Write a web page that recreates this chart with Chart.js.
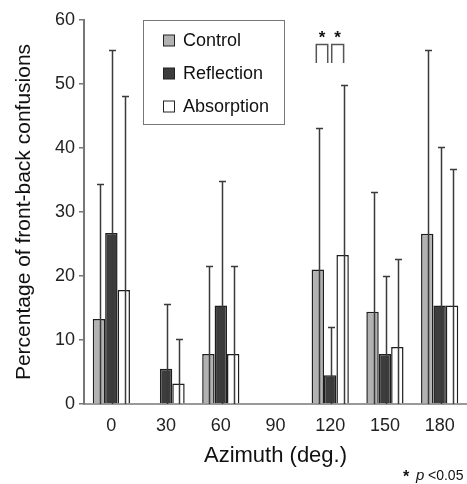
<!DOCTYPE html>
<html lang="en">
  <head>
    <meta charset="UTF-8" />
    <script src="https://cdn.jsdelivr.net/npm/chart.js"></script>
    <style>
      html, body { margin: 0; padding: 0; background: #fff; }
      .chart-container { position: relative; width: 467px; height: 484px; }
    </style>
    <title>front-back confusions</title>
  </head>
  <body>
    <div class="chart-container">
      <canvas id="fbChart" width="467" height="484"></canvas>
    </div>
    <script>
      // azimuth categories
      const categories = ["0", "30", "60", "90", "120", "150", "180"];

      // mean percentage per condition
      const control = [13.3, 0, 7.8, 0, 21.0, 14.4, 26.6];
      const reflection = [26.7, 5.5, 15.4, 0, 4.5, 7.8, 15.4];
      const absorption = [17.8, 3.2, 7.8, 0, 23.3, 8.9, 15.4];

      // upper end of the error bars (mean + SD), null = no bar
      const controlUpper = [34.4, null, 21.6, null, 43.1, 33.1, 55.3];
      const reflectionUpper = [55.3, 15.6, 34.8, null, 12.0, 20.0, 40.1];
      const absorptionUpper = [48.2, 10.2, 21.6, null, 49.8, 22.6, 36.7];

      const yTicks = [0, 10, 20, 30, 40, 50, 60];

      // significant pairs at 120 deg: [category index, dataset a, dataset b]
      const sigPairs = [
        [4, 0, 1],
        [4, 1, 2],
      ];

      const FONT = "'Liberation Sans', Arial, sans-serif";
      const uppers = [controlUpper, reflectionUpper, absorptionUpper];

      // error bars, drawn from the base through the bar to the upper value
      const errorBars = {
        id: "errorBars",
        afterDatasetsDraw(chart) {
          const c = chart.ctx;
          const y = chart.scales.y;
          c.save();
          c.strokeStyle = "#3a3a3a";
          c.lineWidth = 1.5;
          chart.data.datasets.forEach((ds, di) => {
            const meta = chart.getDatasetMeta(di);
            meta.data.forEach((bar, i) => {
              const up = uppers[di][i];
              if (up == null) return;
              const x = Math.round(bar.x + 1) + 0.5;
              const yTop = Math.round(y.getPixelForValue(up)) + 0.5;
              const yBase = y.getPixelForValue(0);
              c.beginPath();
              c.moveTo(x, yBase);
              c.lineTo(x, yTop);
              c.moveTo(x - 3.5, yTop);
              c.lineTo(x + 3.5, yTop);
              c.stroke();
            });
          });
          c.restore();
        },
      };

      // significance brackets and asterisks
      const sigMarks = {
        id: "sigMarks",
        afterDatasetsDraw(chart) {
          const c = chart.ctx;
          const y = chart.scales.y;
          const yTop = Math.round(y.getPixelForValue(56.3)) + 0.5;
          const yBot = y.getPixelForValue(53.3);
          c.save();
          c.strokeStyle = "#555";
          c.lineWidth = 1.5;
          c.fillStyle = "#111";
          c.font = "bold 17px " + FONT;
          c.textAlign = "center";
          c.textBaseline = "middle";
          sigPairs.forEach(([ci, a, b], k) => {
            const xa = chart.getDatasetMeta(a).data[ci].x + (k === 0 ? -1.5 : 1.5);
            const xb = chart.getDatasetMeta(b).data[ci].x + (k === 0 ? -2.5 : 1);
            c.beginPath();
            c.moveTo(xa, yBot);
            c.lineTo(xa, yTop);
            c.lineTo(xb, yTop);
            c.lineTo(xb, yBot);
            c.stroke();
            c.fillText("*", (xa + xb) / 2, yTop - 6);
          });
          c.restore();
        },
      };

      // boxed legend and p-value note
      const boxLegend = {
        id: "boxLegend",
        afterDraw(chart) {
          const c = chart.ctx;
          c.save();
          c.fillStyle = "#fff";
          c.fillRect(143.5, 20.5, 141, 104);
          c.strokeStyle = "#777";
          c.lineWidth = 1;
          c.strokeRect(143.5, 20.5, 141, 104);
          c.font = "18px " + FONT;
          c.textBaseline = "middle";
          chart.data.datasets.forEach((ds, i) => {
            const cy = 40.5 + i * 33;
            c.fillStyle = ds.backgroundColor;
            c.fillRect(163.5, cy - 5.5, 11, 11);
            c.strokeStyle = "#222";
            c.strokeRect(163.5, cy - 5.5, 11, 11);
            c.fillStyle = "#111";
            c.fillText(ds.label, 183, cy + 1);
          });

          // note
          c.textBaseline = "middle";
          c.font = "bold 16px " + FONT;
          c.fillText("*", 403, 478);
          c.font = "italic 15px " + FONT;
          c.fillText("p", 416, 476);
          c.font = "14px " + FONT;
          c.fillText("<0.05", 428, 476);
          c.restore();
        },
      };

      const ctx = document.getElementById("fbChart").getContext("2d");

      new Chart(ctx, {
        type: "bar",
        data: {
          labels: categories,
          datasets: [
            { label: "Control", data: control, backgroundColor: "#b2b2b2" },
            { label: "Reflection", data: reflection, backgroundColor: "#3d3d3d" },
            { label: "Absorption", data: absorption, backgroundColor: "#ffffff" },
          ],
        },
        options: {
          responsive: false,
          animation: false,
          devicePixelRatio: 1,
          layout: { padding: { top: 20, right: 0, bottom: 15, left: 0 } },
          datasets: {
            bar: {
              borderColor: "#1e1e1e",
              borderWidth: 1.5,
              categoryPercentage: 0.68,
              barPercentage: 1,
            },
          },
          plugins: {
            legend: { display: false },
            tooltip: { enabled: false },
          },
          scales: {
            x: {
              grid: { display: false },
              border: { display: true, color: "#999", width: 2 },
              ticks: { color: "#222", font: { family: FONT, size: 18 }, padding: 3 },
              title: {
                display: true,
                text: "Azimuth (deg.)",
                color: "#111",
                font: { family: FONT, size: 22 },
                padding: { top: 4, bottom: 0 },
              },
              afterFit(scale) {
                scale.height = 65;
              },
            },
            y: {
              min: 0,
              max: 60,
              afterBuildTicks(scale) {
                scale.ticks = yTicks.map((v) => ({ value: v }));
              },
              grid: { drawOnChartArea: false, drawTicks: true, tickLength: 5, color: "#777", lineWidth: 1.5 },
              border: { display: true, color: "#777", width: 2 },
              ticks: { color: "#222", font: { family: FONT, size: 18 }, padding: 4 },
              title: {
                display: true,
                text: "Percentage of front-back confusions",
                color: "#111",
                font: { family: FONT, size: 21 },
                padding: { top: 12, bottom: 0 },
              },
              afterFit(scale) {
                scale.width = 84;
              },
            },
          },
        },
        plugins: [errorBars, sigMarks, boxLegend],
      });
    </script>
  </body>
</html>
